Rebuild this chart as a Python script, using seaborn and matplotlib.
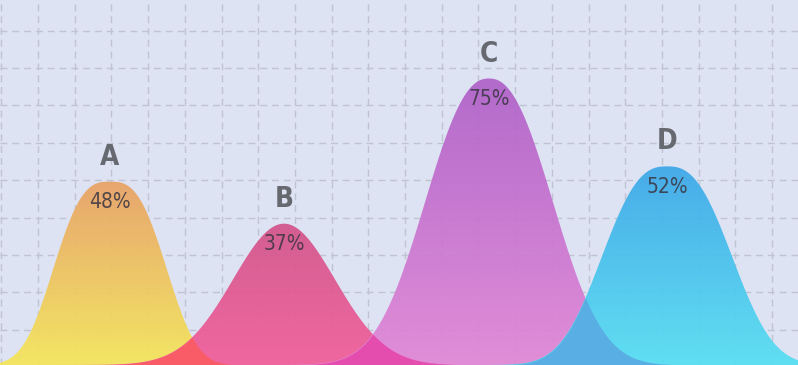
import numpy as np
import pandas as pd
import seaborn as sns
import matplotlib
matplotlib.use("Agg")
import matplotlib.pyplot as plt
from matplotlib.colors import to_rgb
from matplotlib import font_manager as fm

# ---- data ----
labels = ["A", "B", "C", "D"]
values = [48, 37, 75, 52]
pct_labels = ["48%", "37%", "75%", "52%"]

# ---- layout / style ----
centers = [110, 284, 489, 667]
spreads = [66, 72, 82, 79]
shapes = [2.9, 2.0, 2.3, 2.6]
top_colors = ["#e8a266", "#d3558b", "#b062c9", "#3ea8e8"]
bottom_colors = ["#f5e65a", "#f25f9a", "#e288d6", "#58dff2"]
overlap_colors = ["#fa5c66", "#e54cad", "#59ade3"]
BG = "#dde3f3"

sns.set_theme(style="whitegrid")
plt.rcParams["font.family"] = ["DejaVu Sans"]


def find_font(weights):
    stretch_rank = {"ultra-condensed": 0, "extra-condensed": 0, "condensed": 1,
                    "semi-condensed": 2}
    cands = []
    for f in fm.fontManager.ttflist:
        nm = f.name.lower()
        st = f.stretch if isinstance(f.stretch, str) else ""
        narrow = ("narrow" in nm or "condensed" in nm or st in stretch_rank
                  or "narrow" in f.fname.lower() or "condensed" in f.fname.lower())
        if not narrow or f.style != "normal":
            continue
        w = f.weight if isinstance(f.weight, int) else fm.weight_dict.get(f.weight, 400)
        cands.append((stretch_rank.get(st, 1), min(abs(w - ww) for ww in weights), f.fname))
    if not cands:
        return None
    cands.sort()
    return cands[0][2]


bold_file = find_font([700, 600])
light_file = find_font([300, 400])
bold_fp = fm.FontProperties(fname=bold_file) if bold_file else fm.FontProperties(family="DejaVu Sans", weight="bold")
light_fp = fm.FontProperties(fname=light_file) if light_file else fm.FontProperties(family="DejaVu Sans")

fig = plt.figure(figsize=(7.98, 3.65), dpi=100)
fig.patch.set_facecolor(BG)
ax = fig.add_axes([0, 0, 1, 1])
ax.set_facecolor(BG)
ymax = 365 / 3.82

x = np.linspace(0, 798, 2000)
curves = []
frames = []
for lab, v, c, s, p in zip(labels, values, centers, spreads, shapes):
    y = v * np.exp(-(np.abs(x - c) / s) ** p)
    curves.append(y)
    frames.append(pd.DataFrame({"x": x, "y": y, "label": lab}))
df = pd.concat(frames, ignore_index=True)

sns.lineplot(data=df, x="x", y="y", hue="label", palette=top_colors,
             legend=False, linewidth=0, ax=ax)

for i, (v, y) in enumerate(zip(values, curves)):
    poly = ax.fill_between(x, 0, y, color="none", lw=0)
    t = np.linspace(0, 1, 256)[:, None]
    c0 = np.array(to_rgb(bottom_colors[i]))
    c1 = np.array(to_rgb(top_colors[i]))
    grad = (1 - t) * c0 + t * c1
    im = ax.imshow(grad[:, None, :], extent=[0, 798, 0, v], origin="lower",
                   aspect="auto", zorder=2 + i, alpha=0.94,
                   interpolation="bicubic")
    im.set_clip_path(poly.get_paths()[0], transform=ax.transData)

for i in range(3):
    ov = np.minimum(curves[i], curves[i + 1])
    ax.fill_between(x, 0, ov, where=ov > 0.05, color=overlap_colors[i],
                    lw=0, zorder=7, alpha=0.97)

ax.set_xlim(0, 798)
ax.set_ylim(0, ymax)

# grid
ax.set_xticks(np.arange(1.3, 798, 36.7))
ax.set_yticks(np.arange((365 - 329.7) / 3.82, ymax, 37.4 / 3.82))
ax.grid(True, color="#c0c4d1", linestyle=(0, (5, 3.5)), linewidth=1)
ax.set_axisbelow(True)
ax.tick_params(length=0, labelbottom=False, labelleft=False)
for sp in ax.spines.values():
    sp.set_visible(False)
ax.set_xlabel("")
ax.set_ylabel("")

lab_size = 20 if bold_file else 16
pct_size = 15 if light_file else 12
for lab, pct, v, c in zip(labels, pct_labels, values, centers):
    ax.annotate(lab, (c, v), xytext=(0, 18), textcoords="offset points",
                ha="center", va="center", fontproperties=bold_fp,
                fontsize=lab_size, color="#66696f", zorder=10)
    ax.annotate(pct, (c, v), xytext=(0, -15), textcoords="offset points",
                ha="center", va="center", fontproperties=light_fp,
                fontsize=pct_size, color="#3a3542", alpha=0.85, zorder=10)

fig.savefig("out.png", dpi=100, facecolor=BG)
